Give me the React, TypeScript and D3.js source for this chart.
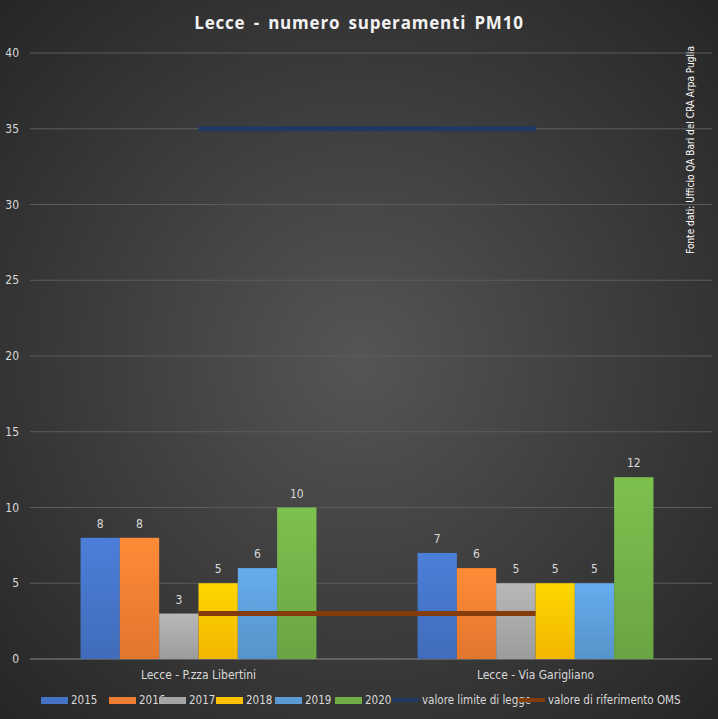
import React from "react";
import * as d3 from "d3";

const categories = ["Lecce - P.zza Libertini", "Lecce - Via Garigliano"];
const years = ["2015", "2016", "2017", "2018", "2019", "2020"];
const values = [
  [8, 8, 3, 5, 6, 10],
  [7, 6, 5, 5, 5, 12],
];
const colors = ["#4472c4", "#ed7d31", "#a5a5a5", "#ffc000", "#5b9bd5", "#70ad47"];
const limitValue = 35;
const omsValue = 3;
const yTicks = [0, 5, 10, 15, 20, 25, 30, 35, 40];

const W = 718, H = 719;
const font = "'Liberation Sans Narrow', 'DejaVu Sans Condensed', 'Liberation Sans', sans-serif";

export default function App() {
  const x0 = d3.scaleBand().domain(categories).range([30, 704]).paddingInner(0.3).paddingOuter(0.15);
  const x1 = d3.scaleBand().domain(years).range([0, x0.bandwidth()]);
  const y = d3.scaleLinear().domain([0, 40]).range([659, 53]);
  const cx = (c: string) => (x0(c) as number) + x0.bandwidth() / 2;
  const lineX1 = cx(categories[0]), lineX2 = cx(categories[1]);
  const legend = [
    { t: "2015", x: 41, c: colors[0], type: "rect" },
    { t: "2016", x: 109, c: colors[1], type: "rect" },
    { t: "2017", x: 159, c: colors[2], type: "rect" },
    { t: "2018", x: 216, c: colors[3], type: "rect" },
    { t: "2019", x: 275, c: colors[4], type: "rect" },
    { t: "2020", x: 335, c: colors[5], type: "rect" },
    { t: "valore limite di legge", x: 392, c: "#203864", type: "line" },
    { t: "valore di riferimento OMS", x: 518, c: "#843c0c", type: "line" },
  ];
  return (
    <svg width={W} height={H} style={{ position: "absolute", left: 0, top: 0 }}>
      <defs>
        <radialGradient id="bg" cx="50%" cy="50%" r="70%">
          <stop offset="0" stopColor="#555555" />
          <stop offset="1" stopColor="#262626" />
        </radialGradient>
        {colors.map((c, i) => (
          <linearGradient key={i} id={"g" + i} x1="0" y1="0" x2="0" y2="1">
            <stop offset="0" stopColor={d3.color(c)!.brighter(0.3).toString()} />
            <stop offset="1" stopColor={d3.color(c)!.darker(0.15).toString()} />
          </linearGradient>
        ))}
      </defs>
      <rect width={W} height={H} fill="url(#bg)" />
      <text x={359} y={29} textAnchor="middle" fill="#f2f2f2" fontFamily="'Open Sans', sans-serif" fontWeight="bold" fontSize={17} letterSpacing={0.8} wordSpacing={3}>
        Lecce - numero superamenti PM10
      </text>
      <text transform="translate(694,150) rotate(-90)" textAnchor="middle" fill="#ffffff" fontFamily={font} fontSize={10}>
        Fonte dati: Ufficio QA Bari del CRA Arpa Puglia
      </text>
      {yTicks.map((t) => (
        <g key={t}>
          <line x1={30} x2={712} y1={y(t)} y2={y(t)} stroke={t === 0 ? "#8c8c8c" : "#5c5c5c"} strokeWidth={1} />
          <text x={19} y={y(t) + 4} textAnchor="end" fill="#d9d9d9" fontFamily={font} fontSize={12}>{t}</text>
        </g>
      ))}
      {categories.map((c, ci) => (
        <g key={c} transform={`translate(${x0(c)},0)`}>
          {values[ci].map((v, i) => (
            <g key={i}>
              <rect x={x1(years[i])} y={y(v)} width={x1.bandwidth()} height={y(0) - y(v)} fill={`url(#g${i})`} />
              <text x={(x1(years[i]) as number) + x1.bandwidth() / 2} y={y(v) - 10} textAnchor="middle" fill="#d9d9d9" fontFamily={font} fontSize={12}>{v}</text>
            </g>
          ))}
          <text x={x0.bandwidth() / 2} y={679} textAnchor="middle" fill="#d9d9d9" fontFamily={font} fontSize={12}>{c}</text>
        </g>
      ))}
      <line x1={lineX1} x2={lineX2} y1={y(limitValue)} y2={y(limitValue)} stroke="#203864" strokeWidth={5} />
      <line x1={lineX1} x2={lineX2} y1={y(omsValue)} y2={y(omsValue)} stroke="#843c0c" strokeWidth={5} />
      {legend.map((l) => (
        <g key={l.t}>
          {l.type === "rect" ? (
            <rect x={l.x} y={697} width={27} height={7} fill={l.c} />
          ) : (
            <line x1={l.x} x2={l.x + 27} y1={700} y2={700} stroke={l.c} strokeWidth={4} />
          )}
          <text x={l.x + 30} y={704} fill="#d9d9d9" fontFamily={font} fontSize={11.5}>{l.t}</text>
        </g>
      ))}
    </svg>
  );
}
